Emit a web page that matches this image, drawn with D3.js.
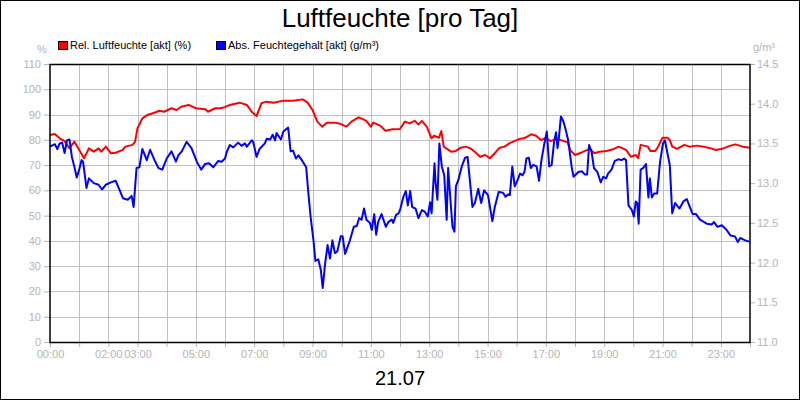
<!DOCTYPE html>
<html>
<head>
<meta charset="utf-8">
<script src="https://cdn.jsdelivr.net/npm/d3@7"></script>
<style>
  body { margin: 0; background: #fff; }
  svg { display: block; font-family: "Liberation Sans", Arial, sans-serif; }
</style>
</head>
<body>
<svg width="800" height="400"></svg>
<script>
// Rel. Luftfeuchte (%), left axis
const relTime = ["00:00","00:10","00:20","00:30","00:40","00:50","01:10","01:20","01:30","01:40","01:45","01:55",
  "02:05","02:15","02:30","02:35","02:50","02:55","03:00","03:10","03:20","03:35","03:45","03:55","04:10","04:20",
  "04:30","04:45","05:00","05:20","05:25","05:40","05:50","06:00","06:10","06:30","06:45","06:55","07:05","07:15",
  "07:25","07:40","08:00","08:20","08:40","08:50","09:00","09:10","09:20","09:30","09:45","09:55","10:10","10:20",
  "10:35","10:50","11:00","11:05","11:20","11:30","11:45","12:00","12:10","12:20","12:30","12:38","12:45","12:55",
  "13:05","13:10","13:20","13:25","13:30","13:45","13:55","14:05","14:15","14:25","14:35","14:45","14:55","15:05",
  "15:15","15:25","15:35","15:45","15:55","16:05","16:15","16:30","16:40","16:50","17:00","17:10","17:20","17:30",
  "17:45","17:50","18:00","18:15","18:30","18:40","18:50","19:05","19:20","19:30","19:45","19:55","20:05","20:10",
  "20:15","20:30","20:35","20:45","20:50","21:00","21:10","21:15","21:20","21:30","21:45","21:55","22:10","22:25",
  "22:40","22:50","23:05","23:20","23:30","23:45","24:00"];
const relValue = [81.9,82.3,80.6,79.5,76.6,79.3,72.7,76.6,75.3,76.6,75.3,77.3,
  74.7,74.9,76.0,77.3,78.0,79.3,84.6,88.5,89.8,90.7,91.5,91.1,92.5,91.8,
  93.1,93.8,92.5,92.1,91.1,92.5,92.5,92.9,93.8,94.7,93.8,91.1,89.4,94.5,
  95.1,94.7,95.5,95.5,96.0,94.7,91.8,87.2,85.2,86.8,86.8,86.5,85.2,87.2,
  88.9,87.6,85.2,86.8,85.5,83.6,84.2,84.3,87.2,86.5,87.5,86.1,87.5,85.2,
  80.6,81.6,80.8,83.5,77.3,75.3,75.6,76.9,77.3,76.6,75.1,73.3,74.0,72.7,
  74.7,76.9,77.3,78.6,79.5,80.3,80.6,82.2,81.6,79.9,80.8,79.5,80.3,79.9,
  79.0,76.0,74.0,75.1,76.4,74.7,75.3,75.6,76.4,77.3,76.0,73.3,74.0,72.7,
  78.0,77.3,75.6,75.6,76.9,80.8,80.8,79.9,77.3,76.4,78.0,77.3,77.7,77.3,
  76.6,76.0,76.6,77.7,78.2,77.3,76.9];

// Abs. Feuchtegehalt (g/m³), right axis
const absTime = ["00:00","00:10","00:15","00:20","00:25","00:30","00:35","00:40","00:45","00:50","00:55","01:00",
  "01:05","01:08","01:15","01:20","01:30","01:40","01:47","01:55","02:05","02:15","02:20","02:30","02:40","02:48",
  "02:52","02:58","03:04","03:10","03:19","03:26","03:35","03:43","03:51","04:00","04:10","04:19","04:24","04:31",
  "04:41","04:51","05:02","05:11","05:19","05:27","05:36","05:46","05:53","06:00","06:04","06:10","06:17","06:27",
  "06:34","06:41","06:45","06:55","06:58","07:05","07:11","07:22","07:26","07:33","07:38","07:43","07:46","07:55",
  "08:00","08:10","08:15","08:20","08:26","08:31","08:38","08:47","08:51","08:56","09:02","09:06","09:12","09:17",
  "09:21","09:26","09:31","09:36","09:41","09:46","09:51","09:58","10:02","10:07","10:17","10:25","10:31","10:36",
  "10:41","10:46","10:51","10:58","11:02","11:07","11:11","11:15","11:22","11:31","11:36","11:43","11:46","11:52",
  "11:57","12:00","12:07","12:12","12:16","12:21","12:25","12:32","12:38","12:45","12:51","12:57","13:02","13:05",
  "13:11","13:13","13:17","13:21","13:26","13:31","13:36","13:39","13:44","13:48","13:52","13:55","14:00","14:07",
  "14:14","14:19","14:24","14:29","14:34","14:41","14:47","14:53","15:01","15:10","15:15","15:23","15:32","15:37",
  "15:43","15:46","15:51","15:56","16:02","16:07","16:12","16:16","16:20","16:25","16:29","16:34","16:41","16:46",
  "16:51","16:57","17:02","17:07","17:12","17:17","17:21","17:24","17:27","17:31","17:36","17:41","17:46","17:53",
  "17:57","18:07","18:14","18:20","18:25","18:29","18:34","18:39","18:46","18:53","18:58","19:04","19:08","19:15",
  "19:22","19:29","19:36","19:41","19:45","19:50","19:57","20:01","20:05","20:08","20:11","20:15","20:20","20:26",
  "20:31","20:34","20:38","20:43","20:49","20:55","21:01","21:05","21:10","21:15","21:20","21:26","21:35","21:43",
  "21:50","21:55","22:02","22:09","22:17","22:31","22:41","22:46","22:53","23:02","23:12","23:20","23:29","23:35",
  "23:40","23:50","24:00"];
const absValue = [13.46,13.49,13.43,13.50,13.51,13.38,13.54,13.55,13.33,13.21,13.07,13.17,
  13.29,13.27,12.94,13.06,13.00,12.98,12.92,12.98,13.01,13.03,12.96,12.81,12.79,12.84,
  12.70,13.19,13.20,13.43,13.29,13.42,13.29,13.19,13.17,13.31,13.40,13.27,13.35,13.40,
  13.52,13.44,13.27,13.17,13.24,13.25,13.20,13.28,13.27,13.31,13.40,13.48,13.45,13.51,
  13.47,13.50,13.46,13.54,13.52,13.33,13.43,13.50,13.56,13.55,13.61,13.54,13.63,13.55,
  13.65,13.70,13.40,13.41,13.31,13.35,13.29,13.20,12.91,12.58,12.28,12.02,12.04,11.91,
  11.68,11.99,12.22,12.05,12.28,12.12,12.14,12.33,12.33,12.11,12.28,12.45,12.46,12.56,
  12.54,12.68,12.54,12.50,12.41,12.61,12.35,12.51,12.61,12.45,12.51,12.54,12.50,12.60,
  12.62,12.66,12.83,12.90,12.72,12.90,12.70,12.68,12.56,12.66,12.64,12.58,12.76,12.62,
  13.25,13.02,12.79,13.50,13.21,13.10,12.54,13.19,12.77,12.45,12.39,12.96,13.04,13.21,
  13.32,13.33,13.02,12.70,12.75,12.93,12.75,12.91,12.85,12.52,12.70,12.89,12.88,12.83,
  12.86,12.85,13.21,12.96,13.04,13.12,13.10,13.14,13.31,13.32,13.19,13.23,13.21,13.03,
  13.29,13.50,13.65,13.21,13.23,13.52,13.64,13.44,13.58,13.84,13.78,13.67,13.54,13.21,
  13.08,13.14,13.15,13.11,13.11,13.48,13.40,13.19,13.14,13.01,13.08,13.06,13.12,13.17,
  13.28,13.30,13.29,13.31,13.29,12.72,12.66,12.58,12.77,12.75,12.49,13.17,13.19,13.24,
  12.82,13.06,12.82,12.87,12.87,13.27,13.50,13.54,13.38,13.23,12.62,12.75,12.68,12.77,
  12.80,12.72,12.61,12.61,12.54,12.49,12.48,12.51,12.45,12.47,12.41,12.34,12.33,12.26,
  12.31,12.28,12.26];

const leftTicks = d3.range(0, 111, 10);
const rightTicks = d3.range(11, 14.51, 0.5);
const hourTicks = d3.range(0, 25, 1);
const hourLabels = [0, 2, 3, 5, 7, 9, 11, 13, 15, 17, 19, 21, 23];

const title = "Luftfeuchte [pro Tag]";
const dateLabel = "21.07";
const legendItems = [
  { name: "Rel. Luftfeuchte [akt] (%)", color: "#ff0000" },
  { name: "Abs. Feuchtegehalt [akt] (g/m³)", color: "#0000ff" }
];

const toHours = (s) => {
  const p = s.split(":");
  return +p[0] + +p[1] / 60;
};

const svg = d3.select("svg");
const gray = "#b4b4b4";
const gridColor = "#c0c0c0";
const plot = { left: 50, right: 750, top: 64, bottom: 342 };

const x = d3.scaleLinear().domain([0, 24]).range([plot.left, plot.right]);
const yL = d3.scaleLinear().domain([0, 110]).range([plot.bottom, plot.top]);
const yR = d3.scaleLinear().domain([11, 14.5]).range([plot.bottom, plot.top]);

// outer border
svg.append("rect")
  .attr("x", 0.5).attr("y", 0.5).attr("width", 799).attr("height", 399)
  .attr("fill", "#fff").attr("stroke", "#000");

svg.append("text")
  .attr("x", 400).attr("y", 27)
  .attr("text-anchor", "middle")
  .attr("font-size", 26)
  .text(title);

svg.append("text")
  .attr("x", 400).attr("y", 385)
  .attr("text-anchor", "middle")
  .attr("font-size", 20)
  .text(dateLabel);

// legend
const lg = svg.append("g");
let lx = 58;
legendItems.forEach((d) => {
  lg.append("rect")
    .attr("x", lx + 0.5).attr("y", 41.5).attr("width", 9).attr("height", 8)
    .attr("fill", d.color).attr("stroke", "#000");
  lg.append("text")
    .attr("x", lx + 12).attr("y", 49)
    .attr("font-size", 11)
    .text(d.name);
  lx = lx + 158;
});

svg.append("text").attr("x", 42).attr("y", 53).attr("text-anchor", "middle")
  .attr("font-size", 11).attr("fill", gray).text("%");
svg.append("text").attr("x", 764).attr("y", 51).attr("text-anchor", "middle")
  .attr("font-size", 11).attr("fill", gray).text("g/m³");

// grid
const grid = svg.append("g").attr("stroke", gridColor).attr("stroke-width", 1);
grid.selectAll(".hg").data(leftTicks.slice(1, -1)).enter().append("line")
  .attr("x1", plot.left).attr("x2", plot.right)
  .attr("y1", (d) => Math.round(yL(d)) + 0.5).attr("y2", (d) => Math.round(yL(d)) + 0.5);
grid.selectAll(".vg").data(hourTicks.slice(1, -1)).enter().append("line")
  .attr("y1", plot.top).attr("y2", plot.bottom)
  .attr("x1", (d) => Math.round(x(d)) + 0.5).attr("x2", (d) => Math.round(x(d)) + 0.5);

// axes
const axisL = svg.append("g").attr("transform", `translate(${plot.left},0)`)
  .call(d3.axisLeft(yL).tickValues(leftTicks).tickSize(6).tickPadding(3));
const axisR = svg.append("g").attr("transform", `translate(${plot.right},0)`)
  .call(d3.axisRight(yR).tickValues(rightTicks).tickSize(5).tickPadding(2).tickFormat(d3.format(".1f")));
const axisB = svg.append("g").attr("transform", `translate(0,${plot.bottom})`)
  .call(d3.axisBottom(x).tickValues(hourTicks).tickSize(5).tickPadding(3)
    .tickFormat((d) => hourLabels.includes(d) ? String(d).padStart(2, "0") + ":00" : ""));

[axisL, axisR, axisB].forEach((a) => {
  a.select(".domain").remove();
  a.selectAll("line").attr("stroke", gray);
  a.selectAll("text").attr("fill", gray).attr("font-size", 11)
    .attr("font-family", "'Liberation Sans', Arial, sans-serif");
});

// series
svg.append("path")
  .datum(relTime.map((t, i) => [toHours(t), relValue[i]]))
  .attr("fill", "none").attr("stroke", "#ff0000").attr("stroke-width", 2)
  .attr("stroke-linejoin", "round")
  .attr("d", d3.line().x((d) => x(d[0])).y((d) => yL(d[1])));

svg.append("path")
  .datum(absTime.map((t, i) => [toHours(t), absValue[i]]))
  .attr("fill", "none").attr("stroke", "#0000ff").attr("stroke-width", 2)
  .attr("stroke-linejoin", "round")
  .attr("d", d3.line().x((d) => x(d[0])).y((d) => yR(d[1])));

// plot frame
svg.append("rect")
  .attr("x", plot.left).attr("y", plot.top + 0.5)
  .attr("width", plot.right - plot.left).attr("height", plot.bottom - plot.top)
  .attr("fill", "none").attr("stroke", "#000").attr("stroke-width", 1.5);
</script>
</body>
</html>
